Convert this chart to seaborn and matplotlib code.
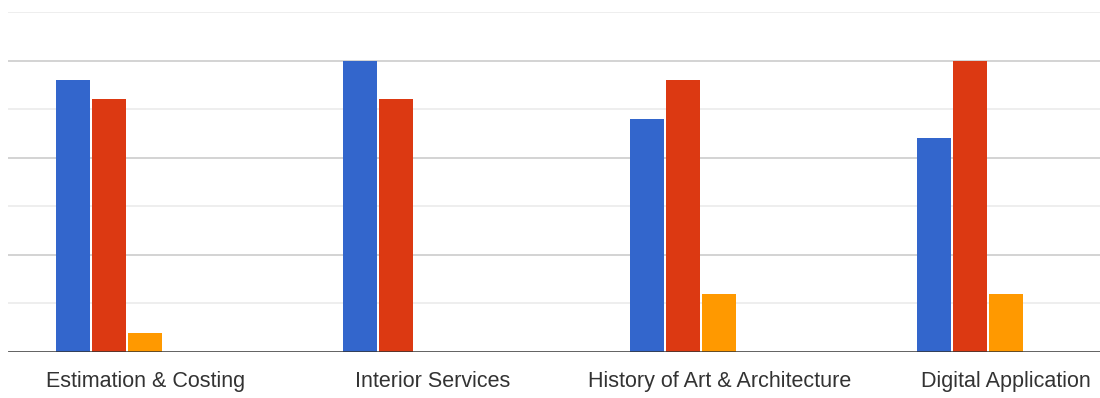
import numpy as np
import pandas as pd
import matplotlib
matplotlib.use('Agg')
import matplotlib.pyplot as plt
import seaborn as sns

# Chart values
categories = ['Estimation & Costing', 'Interior Services',
              'History of Art & Architecture', 'Digital Application']
series_a = [14, 15, 12, 11]   # blue
series_b = [13, 13, 14, 15]   # red
series_c = [1, 0, 3, 3]       # orange

# long form table for seaborn
df = pd.DataFrame({
    'course': categories * 3,
    'series': ['A'] * 4 + ['B'] * 4 + ['C'] * 4,
    'value': series_a + series_b + series_c,
})

sns.set_theme(style='white')
plt.rcParams['font.family'] = ['Liberation Sans', 'DejaVu Sans']

fig = plt.figure(figsize=(11, 3.98), dpi=100)
ax = fig.add_axes([8 / 1100, 46 / 398, 1092 / 1100, 340 / 398])

# two empty slots in each group, as in the original chart
palette = {'A': '#3366cc', 'B': '#dc3912', 'C': '#ff9900',
           'D': '#109618', 'E': '#990099'}
sns.barplot(data=df, x='course', y='value', hue='series',
            hue_order=['A', 'B', 'C', 'D', 'E'], order=categories,
            palette=palette, width=0.63, gap=0.05, saturation=1,
            linewidth=0, legend=False, ax=ax, zorder=3)

ax.set_ylim(0, 17.5)
ax.set_xlim(-0.478, 3.327)
ax.set_yticks([5, 10, 15])
ax.set_yticks([2.5, 7.5, 12.5, 17.5], minor=True)
ax.grid(axis='y', which='major', color='#cccccc', linewidth=1.2, zorder=0)
ax.grid(axis='y', which='minor', color='#ebebeb', linewidth=1.2, zorder=0)
ax.axhline(0, color='#333333', linewidth=1.8, zorder=4)
for s in ax.spines.values():
    s.set_visible(False)
ax.set_yticklabels([])
ax.tick_params(axis='y', which='both', length=0)
ax.tick_params(axis='x', length=0, pad=14, labelsize=15.5, labelcolor='#333333')
ax.set_xlabel('')
ax.set_ylabel('')

plt.savefig('out.png', dpi=100)
